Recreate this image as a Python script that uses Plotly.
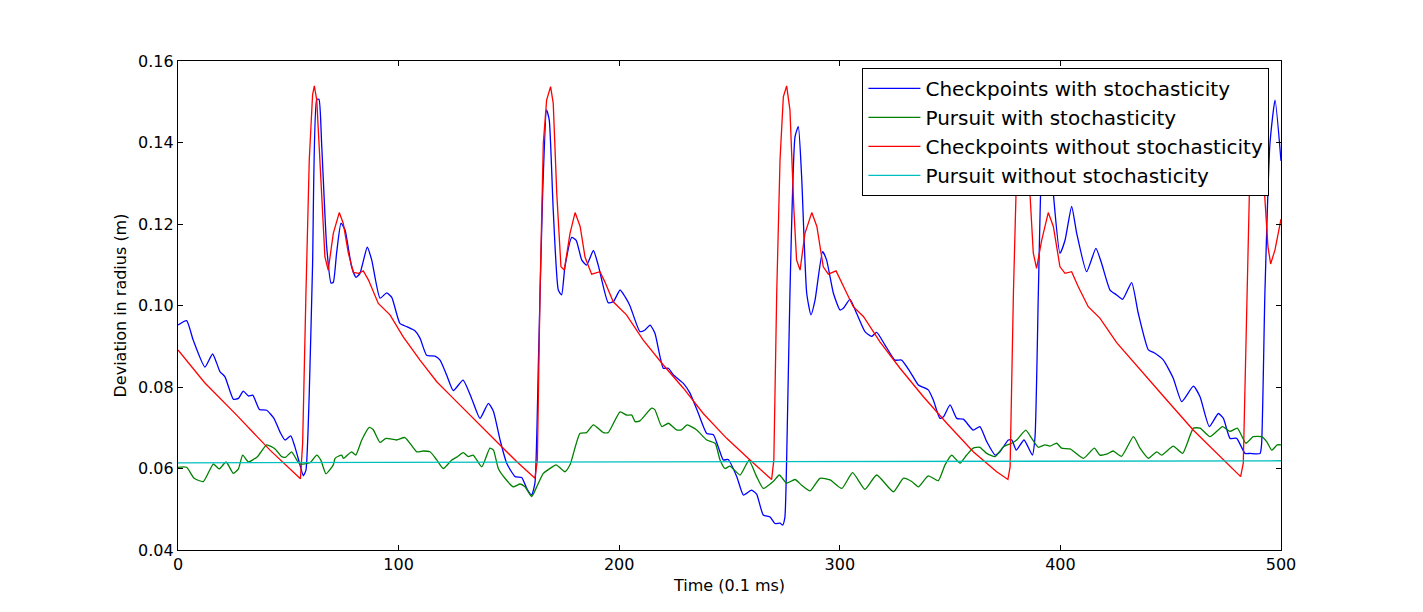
import plotly.graph_objects as go

# Checkpoints with stochasticity (blue)
t_cp_stoch = [0, 3.9, 6.9, 12.2, 15.7, 19, 21.3, 25.1, 27.4, 29.6, 31.9, 33.9, 36.9, 40.2, 43.5, 46.2,
              48.5, 51.1, 53, 55.3, 56.8, 58, 59.5, 61, 62.9, 63.9, 65.1, 67.4, 69.4, 70.4, 71.9, 73.9,
              75.7, 78.7, 80.7, 82.5, 85.8, 87.8, 91.6, 94.6, 96.9, 100.6, 103.7, 107.4, 109.7, 112.7,
              116.5, 118.8, 121.8, 124.8, 129.2, 133.1, 136.9, 140.7, 143, 146, 149, 152.8, 155.8, 158.1,
              160.3, 161.8, 163.4, 165.3, 167.1, 168.3, 170.1, 172.4, 173.9, 175.4, 178.5, 180.5, 183,
              185.2, 188.3, 190.5, 195, 197.3, 200.4, 202.7, 204.9, 209.4, 211.7, 214, 216.2, 220, 222.3,
              224.5, 229.1, 232.1, 235.9, 239.7, 242.7, 244.9, 247.2, 249.4, 253.3, 256.3, 260, 262.3,
              265.3, 268.4, 270.6, 272.9, 274.1, 275.1, 275.9, 277.4, 279.7, 281.2, 282.7, 285, 286.9,
              288.8, 292.2, 294, 297.1, 300.1, 301.6, 304.6, 307.6, 311.4, 314.4, 316.7, 320.5, 325, 328,
              331.8, 335.6, 340.1, 342.4, 345.4, 347, 350, 353, 356, 360.5, 363.5, 366.6, 370.4, 372.6,
              376.4, 378, 380, 383.5, 387.3, 388.5, 390, 391.5, 393.5, 395, 396.8, 399.8, 402.1, 405.1,
              407.4, 411.9, 416.1, 418.7, 422.5, 425.5, 428.2, 432.3, 435.3, 439.9, 442.5, 446.7, 451.2,
              455, 460.3, 463.3, 467.5, 471.6, 473.9, 476.9, 479.9, 483.7, 486, 490.5, 491.2, 492.7, 495,
              497.3, 500]
y_cp_stoch = [0.0952, 0.0963, 0.0915, 0.0849, 0.0881, 0.0838, 0.0825, 0.0770, 0.0772, 0.0790, 0.0778,
              0.0780, 0.0745, 0.0743, 0.0723, 0.0690, 0.0670, 0.0680, 0.0653, 0.0609, 0.0582, 0.0596,
              0.0785, 0.1100, 0.1506, 0.1506, 0.1398, 0.1144, 0.1055, 0.1057, 0.1129, 0.1202, 0.1186,
              0.1095, 0.1069, 0.1079, 0.1143, 0.1112, 0.1018, 0.1031, 0.1020, 0.0956, 0.0948, 0.0938,
              0.0920, 0.0878, 0.0876, 0.0866, 0.0829, 0.0791, 0.0817, 0.0772, 0.0723, 0.0760, 0.0740,
              0.0670, 0.0613, 0.0580, 0.0578, 0.0551, 0.0535, 0.0564, 0.0866, 0.1275, 0.1480, 0.1455,
              0.1234, 0.1038, 0.1026, 0.1095, 0.1167, 0.1160, 0.1112, 0.1099, 0.1135, 0.1099, 0.1007,
              0.1009, 0.1038, 0.1021, 0.0999, 0.0936, 0.0940, 0.0952, 0.0932, 0.0846, 0.0846, 0.0830,
              0.0809, 0.0785, 0.0735, 0.0686, 0.0683, 0.0653, 0.0621, 0.0622, 0.0580, 0.0535, 0.0547,
              0.0537, 0.0486, 0.0481, 0.0465, 0.0466, 0.0461, 0.0480, 0.0621, 0.1030, 0.1414, 0.1439,
              0.1316, 0.1030, 0.0977, 0.1014, 0.1132, 0.1112, 0.1030, 0.0989, 0.0993, 0.1015, 0.0981,
              0.0936, 0.0924, 0.0934, 0.0903, 0.0866, 0.0866, 0.0838, 0.0805, 0.0793, 0.0768, 0.0723,
              0.0727, 0.0756, 0.0723, 0.0721, 0.0694, 0.0703, 0.0666, 0.0633, 0.0641, 0.0670, 0.0670,
              0.0645, 0.0670, 0.0633, 0.0678, 0.1030, 0.1357, 0.1470, 0.1420, 0.1275, 0.1128, 0.1160,
              0.1243, 0.1177, 0.1083, 0.1140, 0.1103, 0.1038, 0.1026, 0.1015, 0.1056, 0.0981, 0.0891,
              0.0884, 0.0866, 0.0821, 0.0764, 0.0802, 0.0776, 0.0703, 0.0735, 0.0723, 0.0674, 0.0674,
              0.0637, 0.0637, 0.0637, 0.0660, 0.1030, 0.1398, 0.1504, 0.1355]

# Pursuit with stochasticity (green)
t_pu_stoch = [0, 3.9, 7.3, 11.5, 16, 18.7, 21.8, 25.1, 27.4, 29.3, 31.9, 36, 40.2, 44, 47, 48.9, 51.5,
              53.8, 55.3, 59.8, 62.9, 64.7, 67.1, 70.4, 71.2, 74.2, 75, 78.7, 80.6, 83.3, 86.7, 88.5,
              91.6, 94.3, 99.1, 102.9, 108.2, 111.2, 114.2, 117.3, 120.3, 124.1, 126.4, 129.3, 131.6,
              133.8, 137.7, 141.4, 143, 145.2, 148.2, 152, 155, 157.3, 160.3, 162.6, 165.6, 168.6, 171.4,
              175.4, 177.7, 182.2, 185.2, 188.3, 192.8, 195, 200.4, 203.4, 205.7, 207.2, 209.4, 214.7,
              216.2, 219.3, 222.3, 226, 228.2, 230.8, 235, 239.7, 243.5, 245.7, 248, 250.2, 254.8, 258.8,
              262.3, 265.3, 269.8, 272.6, 275.9, 279.7, 282.7, 286.5, 291, 295.6, 300.9, 305.8, 311.4,
              316.7, 324.3, 328.8, 332.6, 335.6, 340.1, 344.6, 347.7, 350.7, 354.5, 357.5, 360.5, 363.5,
              366.6, 370.4, 374.1, 377.9, 380.2, 384.3, 387, 390, 393, 395.3, 398.3, 400.5, 404.4, 410.4,
              415.4, 417.9, 420.9, 423.9, 427.7, 433.1, 436.1, 439.9, 443.7, 445.9, 451.2, 455.4, 460.3,
              463.3, 467.8, 473.5, 476.9, 480.2, 484.1, 487.4, 491.2, 493.5, 495.8, 498.3, 500]
y_pu_stoch = [0.0603, 0.0603, 0.0576, 0.0568, 0.0611, 0.0599, 0.0616, 0.0588, 0.0599, 0.0633, 0.0616,
              0.0629, 0.0658, 0.0648, 0.0629, 0.0628, 0.0641, 0.0621, 0.0611, 0.0614, 0.0633, 0.0621,
              0.0587, 0.0609, 0.0625, 0.0633, 0.0625, 0.0641, 0.0633, 0.0670, 0.0701, 0.0695, 0.0664,
              0.0674, 0.0670, 0.0676, 0.0641, 0.0643, 0.0641, 0.0621, 0.0600, 0.0621, 0.0628, 0.0639,
              0.0629, 0.0633, 0.0604, 0.0650, 0.0645, 0.0600, 0.0576, 0.0555, 0.0562, 0.0555, 0.0531,
              0.0555, 0.0588, 0.0600, 0.0609, 0.0592, 0.0609, 0.0686, 0.0688, 0.0707, 0.0688, 0.0688,
              0.0739, 0.0731, 0.0731, 0.0715, 0.0717, 0.0748, 0.0744, 0.0703, 0.0711, 0.0695, 0.0695,
              0.0707, 0.0695, 0.0670, 0.0662, 0.0621, 0.0600, 0.0606, 0.0584, 0.0620, 0.0580, 0.0551,
              0.0568, 0.0584, 0.0564, 0.0573, 0.0559, 0.0545, 0.0576, 0.0572, 0.0551, 0.0590, 0.0549,
              0.0584, 0.0543, 0.0576, 0.0568, 0.0555, 0.0582, 0.0570, 0.0609, 0.0633, 0.0613, 0.0633,
              0.0650, 0.0652, 0.0637, 0.0629, 0.0653, 0.0662, 0.0670, 0.0694, 0.0674, 0.0652, 0.0658,
              0.0655, 0.0662, 0.0650, 0.0648, 0.0625, 0.0650, 0.0633, 0.0635, 0.0643, 0.0630, 0.0678,
              0.0650, 0.0625, 0.0641, 0.0633, 0.0655, 0.0637, 0.0699, 0.0699, 0.0678, 0.0703, 0.0691,
              0.0699, 0.0662, 0.0678, 0.0678, 0.0666, 0.0645, 0.0658, 0.0658]

# Checkpoints without stochasticity (red)
t_cp_det = [0, 12, 26.6, 41.7, 55.5, 56.5, 58, 59.5, 61, 61.8, 62.9, 65.1, 66.6, 68.1, 70.4, 73.1, 74.9,
            77.2, 79.5, 81.8, 84, 86.3, 90.8, 96.1, 102.1, 109.7, 117.3, 124.8, 132.4, 138.4, 146, 153.5,
            161.8, 162.9, 164.1, 165.6, 167.1, 168.9, 170.1, 171.7, 173.6, 175.1, 177.7, 180, 182.3,
            184.5, 187.5, 191.3, 193.5, 197.3, 203.3, 210.9, 220, 229.1, 238.1, 248.7, 259.3, 269.1,
            270.1, 271.4, 272.9, 274.4, 275.9, 277.4, 279.2, 280.4, 282, 284.2, 287.3, 289.6, 292.5,
            294.8, 298.3, 301.6, 306.1, 310.7, 318.2, 327.3, 337.9, 348.5, 360.5, 371.1, 376.2, 377.2,
            378.7, 380.2, 381.6, 382.8, 384, 386.2, 387.7, 389.2, 391.5, 394.5, 396.8, 399.8, 402.1,
            405.1, 408.1, 412.6, 417.9, 425.5, 436.1, 448.2, 460.3, 472.3, 481.7, 482.9, 484.5, 486,
            487.5, 488.7, 490, 492.5, 494.1, 495.3, 497.3, 500]
y_cp_det = [0.0891, 0.0811, 0.0731, 0.0645, 0.0575, 0.0662, 0.1030, 0.1357, 0.1517, 0.1539, 0.1504,
            0.1275, 0.1119, 0.1087, 0.1177, 0.1228, 0.1202, 0.1129, 0.1081, 0.1079, 0.1085, 0.1063,
            0.1005, 0.0977, 0.0923, 0.0866, 0.0813, 0.0772, 0.0731, 0.0700, 0.0660, 0.0617, 0.0576,
            0.0621, 0.1030, 0.1398, 0.1504, 0.1537, 0.1496, 0.1275, 0.1095, 0.1087, 0.1177, 0.1228,
            0.1194, 0.1119, 0.1077, 0.1083, 0.1058, 0.1009, 0.0977, 0.0915, 0.0854, 0.0797, 0.0735,
            0.0674, 0.0621, 0.0573, 0.0621, 0.1030, 0.1357, 0.1512, 0.1539, 0.1480, 0.1234, 0.1112,
            0.1087, 0.1177, 0.1228, 0.1194, 0.1095, 0.1077, 0.1085, 0.1046, 0.0997, 0.0973, 0.0911,
            0.0846, 0.0776, 0.0711, 0.0641, 0.0592, 0.0573, 0.0604, 0.1030, 0.1340, 0.1510, 0.1539,
            0.1490, 0.1275, 0.1129, 0.1091, 0.1160, 0.1228, 0.1194, 0.1095, 0.1079, 0.1083, 0.1046,
            0.0997, 0.0969, 0.0909, 0.0842, 0.0768, 0.0694, 0.0629, 0.0580, 0.0613, 0.1030, 0.1357,
            0.1510, 0.1539, 0.1490, 0.1275, 0.1144, 0.1102, 0.1137, 0.1212]

# Pursuit without stochasticity (cyan)
t_pu_det = [0, 500]
y_pu_det = [0.0614, 0.0619]

series = [
    ("Checkpoints with stochasticity", t_cp_stoch, y_cp_stoch, "#0000ff", "spline"),
    ("Pursuit with stochasticity", t_pu_stoch, y_pu_stoch, "#008000", "spline"),
    ("Checkpoints without stochasticity", t_cp_det, y_cp_det, "#ff0000", "linear"),
    ("Pursuit without stochasticity", t_pu_det, y_pu_det, "#00bfbf", "linear"),
]

fig = go.Figure()
for name, t, y, col, shape in series:
    fig.add_trace(go.Scatter(x=t, y=y, mode="lines", name=name,
                             line=dict(color=col, width=1.3, shape=shape, smoothing=0.5)))

axis_style = dict(showline=True, linecolor="black", linewidth=1.2, mirror="ticks",
                  ticks="inside", ticklen=5, tickcolor="black", showgrid=False,
                  zeroline=False, tickfont=dict(size=16, color="black"))

fig.update_xaxes(range=[0, 500], dtick=100, title=dict(text="Time (0.1 ms)", font=dict(size=16), standoff=6),
                 **axis_style)
fig.update_yaxes(range=[0.04, 0.16], dtick=0.02, tickformat=".2f",
                 title=dict(text="Deviation in radius (m)", font=dict(size=16), standoff=7),
                 **axis_style)

# page body adds 8px, so margins are offset
fig.update_layout(
    width=1423, height=612,
    margin=dict(l=170, r=150, t=53, b=70),
    plot_bgcolor="white", paper_bgcolor="white",
    font=dict(family="DejaVu Sans", color="black"),
    legend=dict(x=0.9895, y=0.986, xanchor="right", yanchor="top",
                bgcolor="white", bordercolor="black", borderwidth=1,
                itemwidth=52, font=dict(size=20)),
)

fig.write_html("out.html")
